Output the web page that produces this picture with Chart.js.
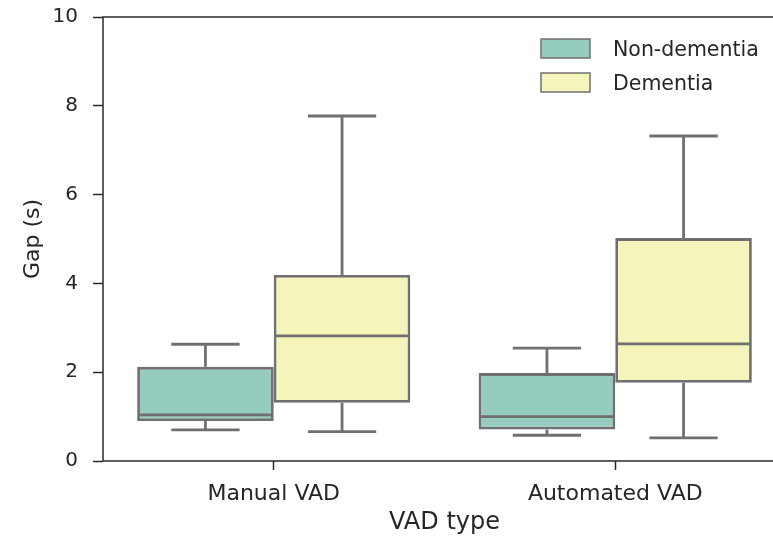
<!DOCTYPE html>
<html>
<head>
<meta charset="utf-8">
<script src="https://cdn.jsdelivr.net/npm/chart.js@4/dist/chart.umd.min.js"></script>
<style>
  html, body { margin: 0; padding: 0; background: #fff; overflow: hidden; }
  #wrap { width: 773px; height: 537px; overflow: hidden; position: relative; }
  #c { position: absolute; left: 0; top: 0; }
</style>
</head>
<body>
<div id="wrap"><canvas id="c" width="790" height="537"></canvas></div>
<script>
// Gap duration by VAD type, split by group
const categories = ['Manual VAD', 'Automated VAD'];
const groups = ['Non-dementia', 'Dementia'];

// five-number summaries per category: [Manual VAD, Automated VAD]
const nonDementiaMin    = [0.70, 0.58];
const nonDementiaQ1     = [0.90, 0.71];
const nonDementiaMedian = [1.04, 1.00];
const nonDementiaQ3     = [2.12, 1.98];
const nonDementiaMax    = [2.63, 2.54];

const dementiaMin    = [0.66, 0.52];
const dementiaQ1     = [1.31, 1.76];
const dementiaMedian = [2.82, 2.64];
const dementiaQ3     = [4.19, 5.02];
const dementiaMax    = [7.77, 7.32];

const yTicks = [0, 2, 4, 6, 8, 10];

const FONT = '"DejaVu Sans", sans-serif';
const EDGE = '#707070';
const AXIS = '#2a2a2a';
const TEXT = '#262626';
const fills = ['#96cbc0', '#f4f4bb'];

const summaries = [
  { min: nonDementiaMin, q1: nonDementiaQ1, med: nonDementiaMedian, q3: nonDementiaQ3, max: nonDementiaMax },
  { min: dementiaMin, q1: dementiaQ1, med: dementiaMedian, q3: dementiaQ3, max: dementiaMax }
];

const datasets = summaries.map((s, k) => ({
  label: groups[k],
  data: categories.map((_, i) => [s.q1[i], s.q3[i]]),
  backgroundColor: fills[k],
  borderColor: EDGE,
  borderWidth: 2.8,
  borderSkipped: false,
  categoryPercentage: 0.8,
  barPercentage: 1.0
}));

// whiskers, caps and medians drawn through the scales
const boxExtras = {
  id: 'boxExtras',
  afterDatasetsDraw(chart) {
    const ctx = chart.ctx;
    const y = chart.scales.y;
    ctx.save();
    ctx.strokeStyle = EDGE;
    ctx.lineWidth = 2.8;
    ctx.lineCap = 'butt';
    summaries.forEach((s, k) => {
      const meta = chart.getDatasetMeta(k);
      meta.data.forEach((bar, i) => {
        const cx = bar.x;
        const half = bar.width / 2;
        const capHalf = half / 2;
        const pMin = y.getPixelForValue(s.min[i]);
        const pQ1 = y.getPixelForValue(s.q1[i]);
        const pMed = y.getPixelForValue(s.med[i]);
        const pQ3 = y.getPixelForValue(s.q3[i]);
        const pMax = y.getPixelForValue(s.max[i]);
        ctx.beginPath();
        ctx.moveTo(cx, pQ3); ctx.lineTo(cx, pMax);
        ctx.moveTo(cx, pQ1); ctx.lineTo(cx, pMin);
        ctx.moveTo(cx - capHalf, pMax); ctx.lineTo(cx + capHalf, pMax);
        ctx.moveTo(cx - capHalf, pMin); ctx.lineTo(cx + capHalf, pMin);
        ctx.moveTo(cx - half + 1, pMed); ctx.lineTo(cx + half - 1, pMed);
        ctx.stroke();
      });
    });
    ctx.restore();
  }
};

// frame around the plotting area
const frame = {
  id: 'frame',
  afterDraw(chart) {
    const { ctx, chartArea: a } = chart;
    ctx.save();
    ctx.strokeStyle = AXIS;
    ctx.lineWidth = 1.5;
    ctx.strokeRect(a.left, a.top, a.right - a.left, a.bottom - a.top);
    ctx.restore();
  }
};

// legend box in the upper right
const legendBox = {
  id: 'legendBox',
  afterDraw(chart) {
    const ctx = chart.ctx;
    ctx.save();
    ctx.font = '20.5px ' + FONT;
    ctx.textBaseline = 'middle';
    chart.data.datasets.forEach((ds, k) => {
      const top = 39 + k * 34;
      ctx.fillStyle = ds.backgroundColor;
      ctx.fillRect(541, top, 49, 19);
      ctx.strokeStyle = EDGE;
      ctx.lineWidth = 1.5;
      ctx.strokeRect(541, top, 49, 19);
      ctx.fillStyle = TEXT;
      ctx.fillText(ds.label, 613, top + 12);
    });
    ctx.restore();
  }
};

new Chart(document.getElementById('c'), {
  type: 'bar',
  data: { labels: categories, datasets },
  options: {
    responsive: false,
    animation: false,
    layout: { autoPadding: false, padding: { top: 17, right: 4, left: 0, bottom: 0 } },
    plugins: { legend: { display: false }, tooltip: { enabled: false } },
    scales: {
      x: {
        grid: { display: true, drawOnChartArea: false, offset: false, tickLength: 9, tickColor: AXIS, tickWidth: 1.5 },
        border: { display: false },
        ticks: { color: TEXT, font: { family: FONT, size: 22 }, padding: 11 },
        title: { display: true, text: 'VAD type', color: TEXT, font: { family: FONT, size: 24 }, padding: { top: 0, bottom: 0 } },
        afterFit(s) { s.height = 76; s.paddingLeft = 0; s.paddingRight = 0; }
      },
      y: {
        min: 0, max: 10,
        afterBuildTicks(s) { s.ticks = yTicks.map(v => ({ value: v })); },
        grid: { display: true, drawOnChartArea: false, tickLength: 10, tickColor: AXIS, tickWidth: 1.5 },
        border: { display: false },
        ticks: { color: TEXT, font: { family: FONT, size: 20 }, padding: 15 },
        title: { display: true, text: 'Gap (s)', color: TEXT, font: { family: FONT, size: 22 }, padding: { top: 20, bottom: 0 } },
        afterFit(s) { s.width = 103; s.paddingTop = 0; s.paddingBottom = 0; }
      }
    }
  },
  plugins: [boxExtras, frame, legendBox]
});
</script>
</body>
</html>
